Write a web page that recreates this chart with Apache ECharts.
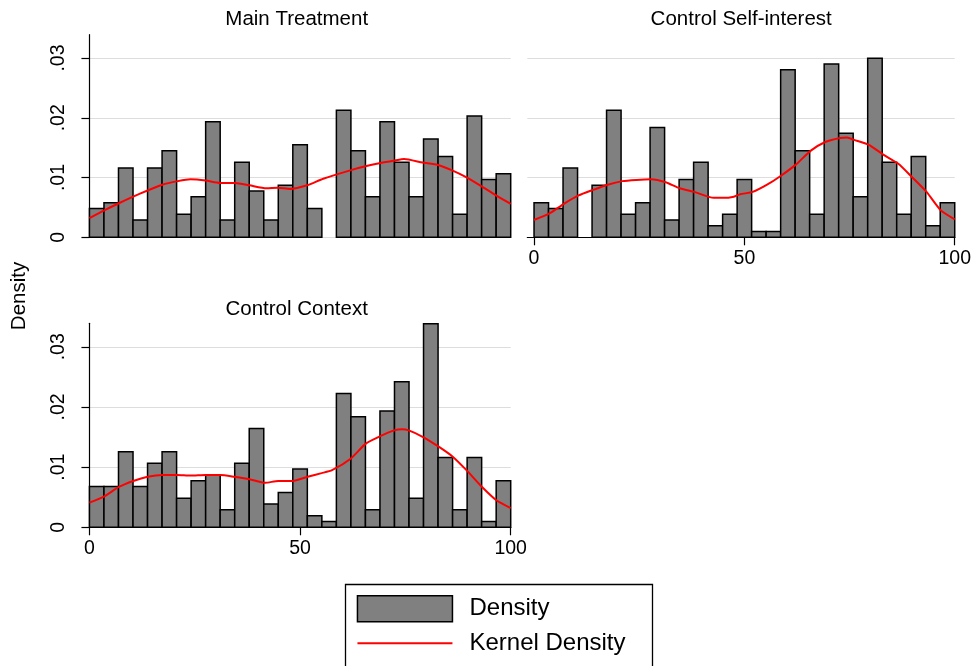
<!DOCTYPE html>
<html>
<head>
<meta charset="utf-8">
<script src="https://cdn.jsdelivr.net/npm/echarts@6/dist/echarts.min.js"></script>
<style>
  html, body { margin: 0; padding: 0; background: #ffffff; }
  #chart { width: 974px; height: 666px; }
</style>
</head>
<body>
<div id="chart"></div>
<script>
// Histogram bins: 29 equal-width bins over 0..100
const binStart = 0;
const binEnd = 100;
const binCount = 29;

const panelTitles = ['Main Treatment', 'Control Self-interest', 'Control Context'];

// Bar heights (density) per bin
const densityMain = [0.00483, 0.0058, 0.0116, 0.0029, 0.0116, 0.0145, 0.00387, 0.00677, 0.01933, 0.0029,
  0.01257, 0.00773, 0.0029, 0.0087, 0.01547, 0.00483, 0, 0.02127, 0.0145, 0.00677,
  0.01933, 0.01257, 0.00677, 0.01643, 0.01353, 0.00387, 0.0203, 0.00967, 0.01063];
const densitySelf = [0.0058, 0.00483, 0.0116, 0, 0.0087, 0.02127, 0.00387, 0.0058, 0.01837, 0.0029,
  0.00967, 0.01257, 0.00193, 0.00387, 0.00967, 0.00097, 0.00097, 0.02803, 0.0145, 0.00387,
  0.029, 0.0174, 0.00677, 0.02997, 0.01257, 0.00387, 0.01353, 0.00193, 0.0058];
const densityContext = [0.00677, 0.00677, 0.01257, 0.00677, 0.01063, 0.01257, 0.00483, 0.00773, 0.0087, 0.0029,
  0.01063, 0.01643, 0.00387, 0.0058, 0.00967, 0.00193, 0.00097, 0.02223, 0.01837, 0.0029,
  0.01933, 0.02417, 0.00483, 0.03383, 0.0116, 0.0029, 0.0116, 0.00097, 0.00773];

// Kernel density estimates, [x, density]
const kdeMain = [[0, 0.0032], [3.5, 0.0045], [7, 0.0057], [12, 0.0073], [17.3, 0.0088], [21, 0.0094], [24, 0.0097],
  [27.6, 0.0095], [31, 0.0091], [34.6, 0.0091], [38, 0.0087], [42, 0.0082], [44.7, 0.0083], [47.6, 0.0081],
  [51.7, 0.0087], [55.5, 0.0098], [61.9, 0.0112], [65.5, 0.0119], [68.8, 0.0124], [72.2, 0.0128], [74.7, 0.0131],
  [79.1, 0.0125], [82.7, 0.0121], [86.1, 0.0112], [89.3, 0.0101], [92.9, 0.0086], [96.3, 0.0071], [100, 0.0056]];
const kdeSelf = [[0, 0.0029], [3.7, 0.0040], [7.1, 0.0056], [10.6, 0.0070], [13.9, 0.0079], [17.5, 0.0088], [21, 0.0094],
  [24.3, 0.0096], [27.8, 0.0097], [31.3, 0.0092], [34.6, 0.0082], [38.1, 0.0076], [42.7, 0.0066], [45, 0.0066],
  [47.5, 0.0068], [49, 0.0072], [52, 0.0076], [55.4, 0.0088], [58.7, 0.0103], [62.3, 0.0122], [65.8, 0.0145],
  [69.1, 0.0159], [72.7, 0.0166], [74.4, 0.0167], [76.1, 0.0163], [79.5, 0.0155], [83.1, 0.0138], [86.6, 0.0123],
  [89.8, 0.0101], [93.3, 0.0076], [96.7, 0.0045], [100, 0.0030]];
const kdeContext = [[0, 0.0041], [3.4, 0.0051], [7, 0.0067], [10.4, 0.0077], [13.8, 0.0084], [17.4, 0.0087], [20.8, 0.0087],
  [24, 0.0086], [27.6, 0.0087], [31.1, 0.0087], [34.4, 0.0084], [38, 0.0080], [41.7, 0.0074], [44.8, 0.0077],
  [48.2, 0.0077], [51.8, 0.0084], [55.1, 0.0090], [57.6, 0.0095], [62, 0.0114], [65.6, 0.0139], [68.9, 0.0151],
  [72.3, 0.0161], [74.2, 0.0163], [75.8, 0.0161], [79.2, 0.0150], [82.9, 0.0134], [86.3, 0.0117], [89.5, 0.0095],
  [93.2, 0.0067], [96.6, 0.0045], [100, 0.0032]];

// Axis ticks
const xTickValues = [0, 50, 100];
const yTickValues = [0, 0.01, 0.02, 0.03];
const yTickLabels = ['0', '.01', '.02', '.03'];

const FONT = 'Liberation Sans, Arial, Helvetica, sans-serif';
const BAR_FILL = '#808080';
const LINE_RED = '#ff0000';
const GRID_GRAY = '#dddddd';

const densities = [densityMain, densitySelf, densityContext];
const kdes = [kdeMain, kdeSelf, kdeContext];

const grids = [
  { left: 82.7, top: 34.7, width: 428, height: 202.6 },
  { left: 527.3, top: 34.7, width: 427.7, height: 202.6 },
  { left: 82.7, top: 323.3, width: 428, height: 204 }
];

// [binLeft, binRight, density] rows for the custom histogram series
function binRows(values) {
  const w = (binEnd - binStart) / binCount;
  return values.map((d, i) => [binStart + i * w, binStart + (i + 1) * w, d]);
}

function renderBar(params, api) {
  const h = api.value(2);
  if (!h) return null;
  const topLeft = api.coord([api.value(0), h]);
  const bottomRight = api.coord([api.value(1), 0]);
  return {
    type: 'rect',
    shape: { x: topLeft[0], y: topLeft[1], width: bottomRight[0] - topLeft[0], height: bottomRight[1] - topLeft[1] },
    style: { fill: BAR_FILL, stroke: '#000000', lineWidth: 1.5 }
  };
}

const showX = [false, true, true];
const showY = [true, false, true];

const xAxes = grids.map((g, i) => ({
  type: 'value', gridIndex: i, min: -1.6, max: 100,
  splitLine: { show: false },
  axisLine: { show: showX[i], lineStyle: { color: '#000', width: 1.2 } },
  axisTick: { show: showX[i], length: 8, customValues: xTickValues, lineStyle: { color: '#000', width: 1.2 } },
  axisLabel: { show: showX[i], customValues: xTickValues, margin: 11, fontSize: 19.5, color: '#000', fontFamily: FONT }
}));

const yAxes = grids.map((g, i) => ({
  type: 'value', gridIndex: i, min: 0, max: 0.0339, interval: 0.01,
  splitLine: { show: true, lineStyle: { color: GRID_GRAY, width: 1 } },
  axisLine: { show: showY[i], lineStyle: { color: '#000', width: 1.2 } },
  axisTick: { show: showY[i], length: 8, customValues: yTickValues, lineStyle: { color: '#000', width: 1.2 } },
  axisLabel: {
    show: showY[i], customValues: yTickValues, rotate: 90, margin: 14, fontSize: 19.5, color: '#000', fontFamily: FONT,
    formatter: v => yTickLabels[Math.round(v / 0.01)]
  }
}));

const series = [];
densities.forEach((vals, i) => {
  series.push({
    type: 'custom', name: 'Density', xAxisIndex: i, yAxisIndex: i,
    renderItem: renderBar, encode: { x: [0, 1], y: 2 },
    itemStyle: { color: BAR_FILL, borderColor: '#000', borderWidth: 1.5 },
    data: binRows(vals), z: 2
  });
});
kdes.forEach((pts, i) => {
  series.push({
    type: 'line', name: 'Kernel Density', xAxisIndex: i, yAxisIndex: i,
    data: pts, symbol: 'none', showSymbol: false, smooth: 0.2,
    lineStyle: { color: LINE_RED, width: 2 }, itemStyle: { color: LINE_RED }, z: 3
  });
});

const titleCenters = [[296.7, 9], [741.2, 9], [296.7, 299]];

const option = {
  backgroundColor: '#ffffff',
  animation: false,
  title: panelTitles.map((t, i) => ({
    text: t, left: titleCenters[i][0], top: titleCenters[i][1], textAlign: 'center', padding: 0,
    textStyle: { fontSize: 20.5, fontWeight: 'normal', color: '#000', fontFamily: FONT }
  })),
  grid: grids,
  xAxis: xAxes,
  yAxis: yAxes,
  series: series,
  legend: {
    orient: 'vertical', left: 356.7, top: 595, padding: 0,
    itemWidth: 95, itemHeight: 26, itemGap: 8.7, selectedMode: false, symbolKeepAspect: true,
    textStyle: { fontSize: 24, color: '#000', fontFamily: FONT, padding: [0, 0, 0, 12] },
    data: [
      { name: 'Density', icon: 'rect', itemStyle: { color: BAR_FILL, borderColor: '#000', borderWidth: 1.5 } },
      { name: 'Kernel Density', icon: 'path://M0,0L95,0L95,2L0,2Z', itemStyle: { color: LINE_RED, borderWidth: 0 } }
    ]
  },
  graphic: [
    {
      type: 'text', x: 19.5, y: 296, rotation: Math.PI / 2,
      style: { text: 'Density', font: '20.5px ' + FONT, fill: '#000', textAlign: 'center', textVerticalAlign: 'middle' }
    },
    {
      type: 'rect', shape: { x: 345.5, y: 584.5, width: 307, height: 120 },
      style: { fill: null, stroke: '#000', lineWidth: 1.3 }, z: -1
    }
  ]
};

const chart = echarts.init(document.getElementById('chart'), null, { renderer: 'canvas' });
chart.setOption(option);
</script>
</body>
</html>
